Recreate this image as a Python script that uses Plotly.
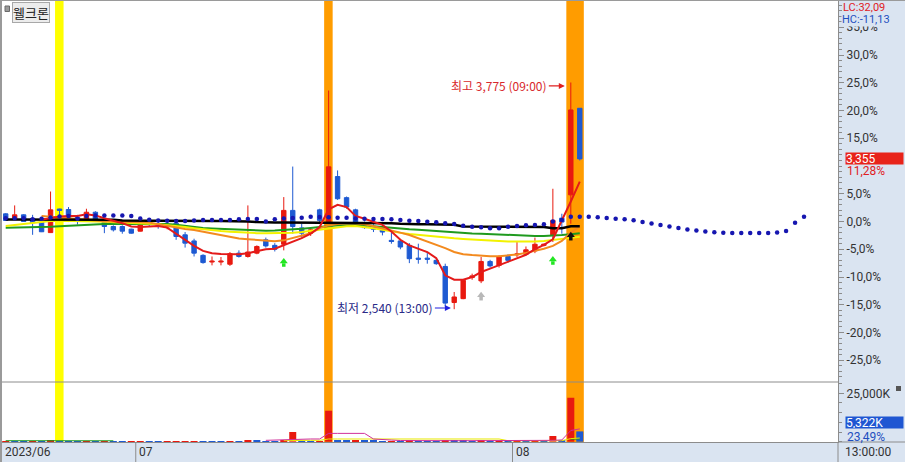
import plotly.graph_objects as go

# ---------------- data (percent vs. reference price, 240-min candles) ----------------
stock_name = "웰크론"
date_labels = ["2023/06", "07", "08"]
date_starts = [0, 15, 57]          # first candle index of each month
time_label = "13:00:00"

opens = [1.38, 0.49, 1.2, 0.54, -0.12, -2.0, 2.25, 2.16, 0.77, 0.18,
         1.67, 0.3, -0.9, -0.9, -1.38, -1.74, -0.12, -0.6, -1.0, -0.3,
         -2.4, -3.5, -6.1, -7.3, -7.3, -7.7, -5.7, -6.3, -5.7, -3.3,
         -4.3, -4.1, 2.0, -1.15, -2.1, 2.1, -0.05, 8.1, 4.3, 2.1,
         -0.3, -1.0, -1.2, -3.4, -3.5, -4.3, -6.6, -6.6, -7.0, -8.1,
         -14.6, -13.9, -10.1, -10.7, -7.2, -7.9, -6.3, -6.0, -5.9, -5.3,
         -4.3, -2.5, 0.6, 4.8, 20.4]
highs = [1.5, 2.9, 1.3, 1.2, 0.5, 5.4, 2.3, 2.6, 1.2, 2.3,
         1.85, 0.4, -0.7, -0.7, -1.3, 0.3, 0.4, -0.1, -0.4, 0.0,
         -1.9, -3.1, -5.9, -6.3, -6.4, -5.5, -5.2, 2.9, -4.3, -2.9,
         -3.9, 4.4, 9.9, -0.4, -1.2, 2.3, 23.6, 9.2, 4.5, 2.3,
         0.0, -0.5, -1.0, -1.9, -3.3, -3.9, -4.0, -5.5, -6.8, -7.6,
         -12.7, -10.4, -9.4, -6.4, -6.9, -6.1, -5.9, -3.7, -4.5, -2.9,
         -4.0, 5.9, 1.4, 25.05, 20.4]
lows = [0.1, 0.36, -0.05, -2.4, -1.9, -2.0, 0.5, -0.1, -0.54, 0.1,
        -0.1, -2.1, -1.8, -2.2, -2.2, -1.8, -0.9, -1.3, -1.4, -3.3,
        -4.7, -6.3, -7.6, -7.9, -7.9, -8.0, -6.5, -6.5, -5.9, -4.7,
        -5.4, -5.2, -2.2, -2.9, -2.6, -0.3, -0.3, 3.9, 2.3, -0.6,
        -1.3, -1.9, -2.5, -4.0, -5.0, -7.5, -7.6, -7.6, -7.8, -15.3,
        -15.8, -14.0, -10.5, -11.1, -8.3, -8.3, -7.4, -6.4, -6.1, -5.7,
        -4.5, -3.7, -2.2, -0.4, 11.0]
closes = [0.18, 1.2, 0.0, -0.23, -1.85, 2.1, 2.0, 0.6, 0.18, 1.67,
          0.0, -0.9, -1.5, -1.74, -2.1, 0.0, -0.54, -0.8, -0.85, -2.7,
          -3.9, -5.7, -7.4, -7.15, -7.15, -5.8, -6.3, -5.5, -4.5, -4.4,
          -5.0, 2.0, -0.9, -2.1, -1.5, 0.2, 9.85, 4.1, 2.6, -0.4,
          -1.1, -1.4, -1.9, -3.6, -4.6, -6.7, -6.8, -6.8, -7.6, -14.7,
          -13.6, -10.6, -9.8, -7.2, -8.0, -6.4, -7.0, -5.85, -5.1, -4.1,
          -4.1, 0.2, -0.1, 20.1, 11.28]

volume_k = [320, 280, 250, 300, 260, 420, 300, 280, 240, 260,
            230, 250, 220, 200, 210, 260, 200, 180, 190, 260,
            300, 320, 280, 220, 200, 300, 240, 700, 420, 300,
            260, 600, 5010, 300, 280, 350, 16000, 600, 450, 520,
            400, 380, 300, 350, 330, 420, 300, 260, 240, 620,
            500, 450, 300, 480, 260, 300, 240, 280, 260, 330,
            200, 2940, 900, 22700, 5322]

ma_red = [None, None, None, None, 0.3, 0.6, 0.9, 1.0, 1.0, 1.3,
          1.1, 0.6, 0.2, -0.3, -0.9, -1.0, -0.9, -0.8, -1.1, -2.2,
          -3.3, -4.4, -5.3, -5.7, -5.85, -5.9, -5.9, -5.7, -5.3, -5.0,
          -4.9, -4.3, -3.6, -3.0, -2.2, -1.0, 2.2, 3.0, 2.6, 1.0,
          0.5, 0.0, -0.6, -1.8, -3.3, -4.3, -4.9, -5.5, -6.6, -9.7,
          -10.5, -10.5, -10.0, -9.1, -8.5, -7.9, -7.3, -6.7, -6.0, -5.0,
          -4.2, -3.2, 0.1, 3.6, 7.2]
ma_orange = [None, None, None, None, 1.0, 0.86, 0.7, 0.55, 0.4, 0.25,
             0.12, 0.05, 0.0, -0.02, -0.03, -0.05, -0.2, -0.5, -0.8, -1.1,
             -1.35, -1.55, -1.85, -2.2, -2.55, -2.85, -3.05, -3.2, -3.35, -3.46,
             -3.55, -3.4, -3.0, -2.6, -2.13, -1.2, -0.7, -0.45, -0.32, -0.35,
             -0.5, -0.85, -1.2, -1.55, -2.0, -2.43, -3.0, -3.6, -4.2, -4.8,
             -5.5, -5.9, -6.05, -6.2, -6.25, -6.25, -6.15, -5.95, -5.65, -5.3,
             -4.9, -4.4, -3.5, -2.0, -0.9]
ma_yellow = [-0.8, -0.6, -0.4, -0.2, 0.0, 0.1, 0.12, 0.12, 0.1, 0.05,
             0.0, -0.05, -0.1, -0.15, -0.2, -0.3, -0.4, -0.5, -0.63, -0.8,
             -1.0, -1.2, -1.4, -1.58, -1.72, -1.84, -1.95, -2.03, -2.1, -2.13,
             -2.12, -2.08, -2.02, -1.9, -1.7, -1.45, -1.2, -1.0, -0.85, -0.82,
             -0.95, -1.2, -1.5, -1.8, -2.05, -2.25, -2.43, -2.6, -2.75, -2.9,
             -3.03, -3.15, -3.27, -3.38, -3.46, -3.53, -3.6, -3.64, -3.64, -3.6,
             -3.5, -3.35, -3.15, -2.95, -2.75]
ma_green = [-1.12, -1.10, -1.08, -1.05, -1.0, -0.95, -0.85, -0.75, -0.65, -0.55,
            -0.48, -0.45, -0.45, -0.44, -0.44, -0.43, -0.44, -0.45, -0.47, -0.6,
            -0.8, -1.0, -1.15, -1.25, -1.33, -1.4, -1.48, -1.55, -1.6, -1.65,
            -1.62, -1.55, -1.45, -1.3, -1.15, -0.95, -0.8, -0.7, -0.65, -0.63,
            -0.7, -0.85, -1.05, -1.2, -1.3, -1.4, -1.5, -1.62, -1.75, -1.88,
            -2.0, -2.08, -2.15, -2.22, -2.3, -2.38, -2.45, -2.55, -2.6, -2.6,
            -2.6, -2.55, -2.45, -2.3, -2.1]
base_black = [0.35, 0.35, 0.35, 0.35, 0.35, 0.35, 0.35, 0.33, 0.33, 0.33,
              0.33, 0.33, 0.3, 0.2, 0.15, 0.15, 0.15, 0.15, 0.12, 0.12,
              0.1, 0.1, 0.1, 0.1, 0.1, 0.1, 0.05, 0.0, -0.1, -0.2,
              -0.2, -0.2, -0.2, -0.2, -0.2, -0.2, -0.2, -0.2, -0.2, -0.2,
              -0.2, -0.3, -0.3, -0.3, -0.4, -0.5, -0.5, -0.5, -0.5, -0.6,
              -0.6, -0.9, -0.9, -0.9, -0.9, -0.9, -0.9, -0.9, -1.0, -1.0,
              -1.0, -1.2, -1.2, -0.85, -0.85]
span_dots = [0.6, 0.6, 0.6, 0.4, 0.5, 0.7, 0.9, 1.0, 0.5, 1.0,
             1.1, 1.1, 1.1, 1.1, 1.0, 0.55, 0.3, 0.2, 0.15, 0.1,
             0.1, 0.2, 0.27, 0.27, 0.27, 0.27, 0.4, 0.45, 0.45, 0.0,
             0.4, 0.55, 0.65, 0.69, 0.86, 0.8, 0.75, 0.69, 0.69, 0.55,
             0.5, 0.45, 0.45, 0.4, 0.27, 0.14, 0.09, -0.04, -0.15, -0.32,
             -0.45, -0.75, -0.94, -1.05, -1.23, -1.23, -0.95, -0.81, -0.69, -0.63,
             -0.5, 0.0, 0.27, 0.86, 0.86, 0.86, 0.76, 0.63, 0.5, 0.4,
             0.22, -0.09, -0.36, -0.63, -0.9, -1.17, -1.44, -1.62, -1.8, -1.95,
             -2.03, -2.07, -2.07, -2.07, -2.07, -2.07, -1.98, -1.71, -0.22, 0.86]

vol_ma_pink = [None] * 29 + [700, 850, 1100, 1400, 1400, 1400, 1400, 4300, 4300, 4300,
                             4300, 4300, 1400, 1000, 850, 600, 520, 520, 520, 520,
                             520, 520, 520, 520, 520, 520, 520, 500, 500, 500,
                             500, 500, 700, 900, 5800, 6600]
vol_ma_yellow = [None] * 31 + [550, 700, 700, 700, 700, 1400, 1400, 1400, 1400, 1400,
                               1400, 1400, 1400, 1400, 1400, 1400, 1400, 1400, 1400, 1400,
                               1400, 1400, 1400, 1400, 1400, 520, 520, 520, 520, 520,
                               520, 520, 1600, 1900]
vol_ma_green = [520, 520, 510, 510, 500, 500, 500, 490, 490, 490, 480, 480, 480] + [None] * 50 + [1300, 1400]

band_idx = [6, 36, 63]
band_len = [1, 1, 2]
band_colors = ["#ffff00", "#ff9c00", "#ff9c00"]

signal_idx = [31, 53, 61, 63]
signal_top = [-6.58, -12.65, -6.22, -1.84]
signal_colors = ["#22e622", "#b8b8b8", "#22e622", "#111111"]

# 10% label is hidden behind the last-price tag in the reference
pct_ticks = [-25, -20, -15, -10, -5, 0, 5, 15, 20, 25, 30, 35]
vol_ticks = [25000]

high_text = "최고 3,775 (09:00)"
low_text = "최저 2,540 (13:00)"
last_price_text = "3,355"
lc_text = "LC:32,09"
hc_text = "HC:-11,13"
last_vol_text = "5,322K"
last_vol_ratio = "23,49%"

# ---------------- layout geometry ----------------
W, H = 905, 462
ML, MR, MT, MB = 2, 67, 1, 20
PW, PH = W - ML - MR, H - MT - MB
SPLIT_PY = 382
X0_PX, DX_PX = 5.7, 8.97
ZERO_PY, PX_PER_PCT = 221.5, 5.55
VOL_BASE_PY, VOL_PX_PER_K = 441.7, 48.4 / 25000

def px(x):
    return (x - ML) / PW

def py(y):
    return (H - MB - y) / PH

x_range = [(ML - X0_PX) / DX_PX, (ML + PW - X0_PX) / DX_PX]
y_range = [(ZERO_PY - SPLIT_PY) / PX_PER_PCT, (ZERO_PY - MT) / PX_PER_PCT]
v_range = [-(H - MB - VOL_BASE_PY) / VOL_PX_PER_K, (VOL_BASE_PY - SPLIT_PY) / VOL_PX_PER_K]
split = py(SPLIT_PY)

RED, BLUE = "#e8190f", "#1e5ad2"
STRIP = "#dae4f1"
GRAY = "#8c8c8c"
FONT = "Roboto, Noto Sans CJK KR"
KFONT = "Noto Sans CJK KR"

idx = list(range(len(closes)))
fig = go.Figure()

# moving averages / baseline
for arr, color, w in [(ma_green, "#1f9a1f", 2), (ma_yellow, "#f2f200", 2),
                      (ma_orange, "#f38a1e", 2), (base_black, "#000000", 2.5),
                      (ma_red, "#e41a1a", 2)]:
    fig.add_trace(go.Scatter(x=idx, y=arr, mode="lines", line=dict(color=color, width=w),
                             hoverinfo="skip", showlegend=False))

fig.add_trace(go.Scatter(x=list(range(len(span_dots))), y=span_dots, mode="markers",
                         marker=dict(color="#1616b0", size=4.5, line=dict(width=0)),
                         hoverinfo="skip", showlegend=False))

fig.add_trace(go.Candlestick(x=idx, open=opens, high=highs, low=lows, close=closes,
                             increasing=dict(line=dict(color=RED, width=1), fillcolor=RED),
                             decreasing=dict(line=dict(color=BLUE, width=1), fillcolor=BLUE),
                             whiskerwidth=0, showlegend=False, hoverinfo="skip"))

# signal arrows
head_y = [t - 3.5 / PX_PER_PCT for t in signal_top]
stem_y = [t - 7.0 / PX_PER_PCT for t in signal_top]
fig.add_trace(go.Scatter(x=signal_idx, y=stem_y, mode="markers",
                         marker=dict(symbol="square", size=3.5, color=signal_colors, line=dict(width=0)),
                         hoverinfo="skip", showlegend=False))
fig.add_trace(go.Scatter(x=signal_idx, y=head_y, mode="markers",
                         marker=dict(symbol="triangle-up", size=7, color=signal_colors, line=dict(width=0)),
                         hoverinfo="skip", showlegend=False))

# volume
vol_colors = [RED if i == 0 or volume_k[i] >= volume_k[i - 1] else BLUE for i in idx]
fig.add_trace(go.Bar(x=idx, y=volume_k, marker=dict(color=vol_colors, line=dict(width=0)),
                     width=0.78, xaxis="x2", yaxis="y2", hoverinfo="skip", showlegend=False))
for arr, color in [(vol_ma_green, "#1f9a1f"), (vol_ma_yellow, "#e8e800"), (vol_ma_pink, "#d0309a")]:
    fig.add_trace(go.Scatter(x=idx, y=arr, mode="lines", line=dict(color=color, width=1),
                             xaxis="x2", yaxis="y2", hoverinfo="skip", showlegend=False))

# ---------------- shapes ----------------
shapes = []
for i0, n, c in zip(band_idx, band_len, band_colors):
    shapes.append(dict(type="rect", xref="x", yref="paper", x0=i0 - 0.5, x1=i0 + n - 0.55,
                       y0=0, y1=1, fillcolor=c, line=dict(width=0), layer="below"))
shapes.append(dict(type="line", xref="paper", yref="paper", x0=0, x1=1, y0=split, y1=split,
                   line=dict(color=GRAY, width=1), layer="above"))
for s in date_starts[1:]:
    shapes.append(dict(type="line", xref="x2", yref="paper", x0=s - 0.5, x1=s - 0.5,
                       y0=py(H), y1=0, line=dict(color=GRAY, width=1)))
shapes.append(dict(type="line", xref="paper", yref="paper", x0=1, x1=1, y0=py(H), y1=0,
                   line=dict(color=GRAY, width=1)))
shapes.append(dict(type="line", xref="paper", yref="paper", x0=1, x1=px(W), y0=0, y1=0,
                   line=dict(color=GRAY, width=1)))
shapes.append(dict(type="rect", xref="paper", yref="paper", x0=px(0), x1=px(2), y0=py(H), y1=py(0),
                   fillcolor="#9a9a9a", line=dict(width=0)))
shapes.append(dict(type="rect", xref="paper", yref="paper", x0=px(0), x1=px(W), y0=py(1), y1=py(0),
                   fillcolor="#9a9a9a", line=dict(width=0)))
shapes.append(dict(type="rect", xref="paper", yref="paper", x0=px(5), x1=px(9.5), y0=py(11.5), y1=py(6),
                   fillcolor="#9a9a9a", line=dict(color="#6a6a6a", width=1)))
shapes.append(dict(type="rect", xref="paper", yref="paper", x0=px(896), x1=px(901), y0=py(391), y1=py(386),
                   fillcolor="#555555", line=dict(width=0)))

# ---------------- annotations ----------------
ann = []
ann.append(dict(text=stock_name, xref="paper", yref="paper", x=px(12), y=py(2), xanchor="left",
                yanchor="top", showarrow=False, font=dict(family=KFONT, size=13, color="#222222"),
                bgcolor="#ececec", bordercolor="#a8a8a8", borderwidth=1, borderpad=0))
ann.append(dict(text=lc_text, xref="paper", yref="paper", x=px(841), y=py(7), xanchor="left",
                yanchor="middle", showarrow=False, font=dict(family=FONT, size=11, color="#e0201f")))
ann.append(dict(text=hc_text, xref="paper", yref="paper", x=px(841), y=py(19.5), xanchor="left",
                yanchor="middle", showarrow=False, font=dict(family=FONT, size=11, color="#1f4fbf"),
                bgcolor=STRIP, borderpad=0))

hi_i = max(idx, key=lambda i: highs[i])
lo_i = min(idx, key=lambda i: lows[i])
ann.append(dict(text=high_text, xref="x", yref="y", x=hi_i - 6 / DX_PX, y=highs[hi_i] - 3.5 / PX_PER_PCT,
                ax=-16, ay=0, xanchor="right", showarrow=True, arrowhead=2, arrowsize=1,
                arrowwidth=1.2, arrowcolor="#e02020",
                font=dict(family=KFONT, size=12, color="#d8282c")))
ann.append(dict(text=low_text, xref="x", yref="y", x=lo_i - 3.3 / DX_PX, y=lows[lo_i] + 1.2 / PX_PER_PCT,
                ax=-16, ay=0, xanchor="right", showarrow=True, arrowhead=2, arrowsize=1,
                arrowwidth=1.2, arrowcolor="#2020e0",
                font=dict(family=KFONT, size=12, color="#2a2a88")))

ann.append(dict(text=last_price_text, xref="paper", yref="y", x=px(845), y=closes[-1], xanchor="left",
                yanchor="middle", showarrow=False, width=57, height=11, align="left",
                font=dict(family=FONT, size=12, color="white"), bgcolor="#e8231a", borderpad=0))
ann.append(dict(text=f"{closes[-1]:.2f}%".replace(".", ","), xref="paper", yref="y", x=px(845),
                y=closes[-1], yshift=-12.5, xanchor="left", yanchor="middle", showarrow=False,
                font=dict(family=FONT, size=12, color="#e0201f")))
ann.append(dict(text=last_vol_text, xref="paper", yref="y2", x=px(845), y=volume_k[-1], yshift=8.9,
                xanchor="left", yanchor="middle", showarrow=False, width=57, height=11, align="left",
                font=dict(family=FONT, size=12, color="white"), bgcolor="#1f56d2", borderpad=0))
ann.append(dict(text=last_vol_ratio, xref="paper", yref="y2", x=px(845), y=volume_k[-1], yshift=-5.3,
                xanchor="left", yanchor="middle", showarrow=False,
                font=dict(family=FONT, size=12, color="#1f4fbf")))
ann.append(dict(text=time_label, xref="paper", yref="paper", x=px(843), y=py(452.5), xanchor="left",
                yanchor="middle", showarrow=False, font=dict(family=FONT, size=12, color="#333333")))
for lab, s in zip(date_labels, date_starts):
    xpos = max(s - 0.5, x_range[0] + 0.05)
    ann.append(dict(text=lab, xref="x2", yref="paper", x=xpos, xshift=1, y=py(452.5), xanchor="left",
                    yanchor="middle", showarrow=False, font=dict(family=FONT, size=12, color="#333333")))

pct_text = [f"{v:.1f}%".replace(".", ",") for v in pct_ticks]
vol_text = [f"{v:,}K" for v in vol_ticks]

fig.update_layout(
    width=W, height=H,
    margin=dict(l=ML, r=MR, t=MT, b=MB, pad=0),
    paper_bgcolor=STRIP, plot_bgcolor="white",
    showlegend=False, hovermode=False, dragmode=False,
    xaxis=dict(domain=[0, 1], range=x_range, anchor="y", showticklabels=False, showgrid=False,
               zeroline=False, showline=False, ticks="", rangeslider=dict(visible=False), fixedrange=True),
    yaxis=dict(domain=[split, 1], range=y_range, side="right", anchor="x", tickvals=pct_ticks,
               ticktext=pct_text, ticks="outside", ticklen=5, tickcolor=GRAY, showline=True,
               linecolor=GRAY, linewidth=1, showgrid=False, zeroline=False,
               tickfont=dict(family=FONT, size=12, color="#333333"),
               minor=dict(dtick=1, ticklen=3, tickcolor=GRAY, ticks="outside", showgrid=False),
               fixedrange=True),
    xaxis2=dict(domain=[0, 1], range=x_range, anchor="y2", showticklabels=False, showgrid=False,
                zeroline=False, showline=True, linecolor=GRAY, linewidth=1, ticks="", fixedrange=True),
    yaxis2=dict(domain=[0, split], range=v_range, side="right", anchor="x2", tickvals=vol_ticks,
                ticktext=vol_text, ticks="outside", ticklen=5, tickcolor=GRAY, showline=True,
                linecolor=GRAY, linewidth=1, showgrid=False, zeroline=False,
                tickfont=dict(family=FONT, size=12, color="#333333"),
                minor=dict(dtick=5000, ticklen=3, tickcolor=GRAY, ticks="outside", showgrid=False),
                fixedrange=True),
    shapes=shapes, annotations=ann, boxgap=0.3,
)

fig.write_html("out.html", config={"displayModeBar": False},
               post_script="document.body.style.margin='0';document.body.style.padding='0';")
